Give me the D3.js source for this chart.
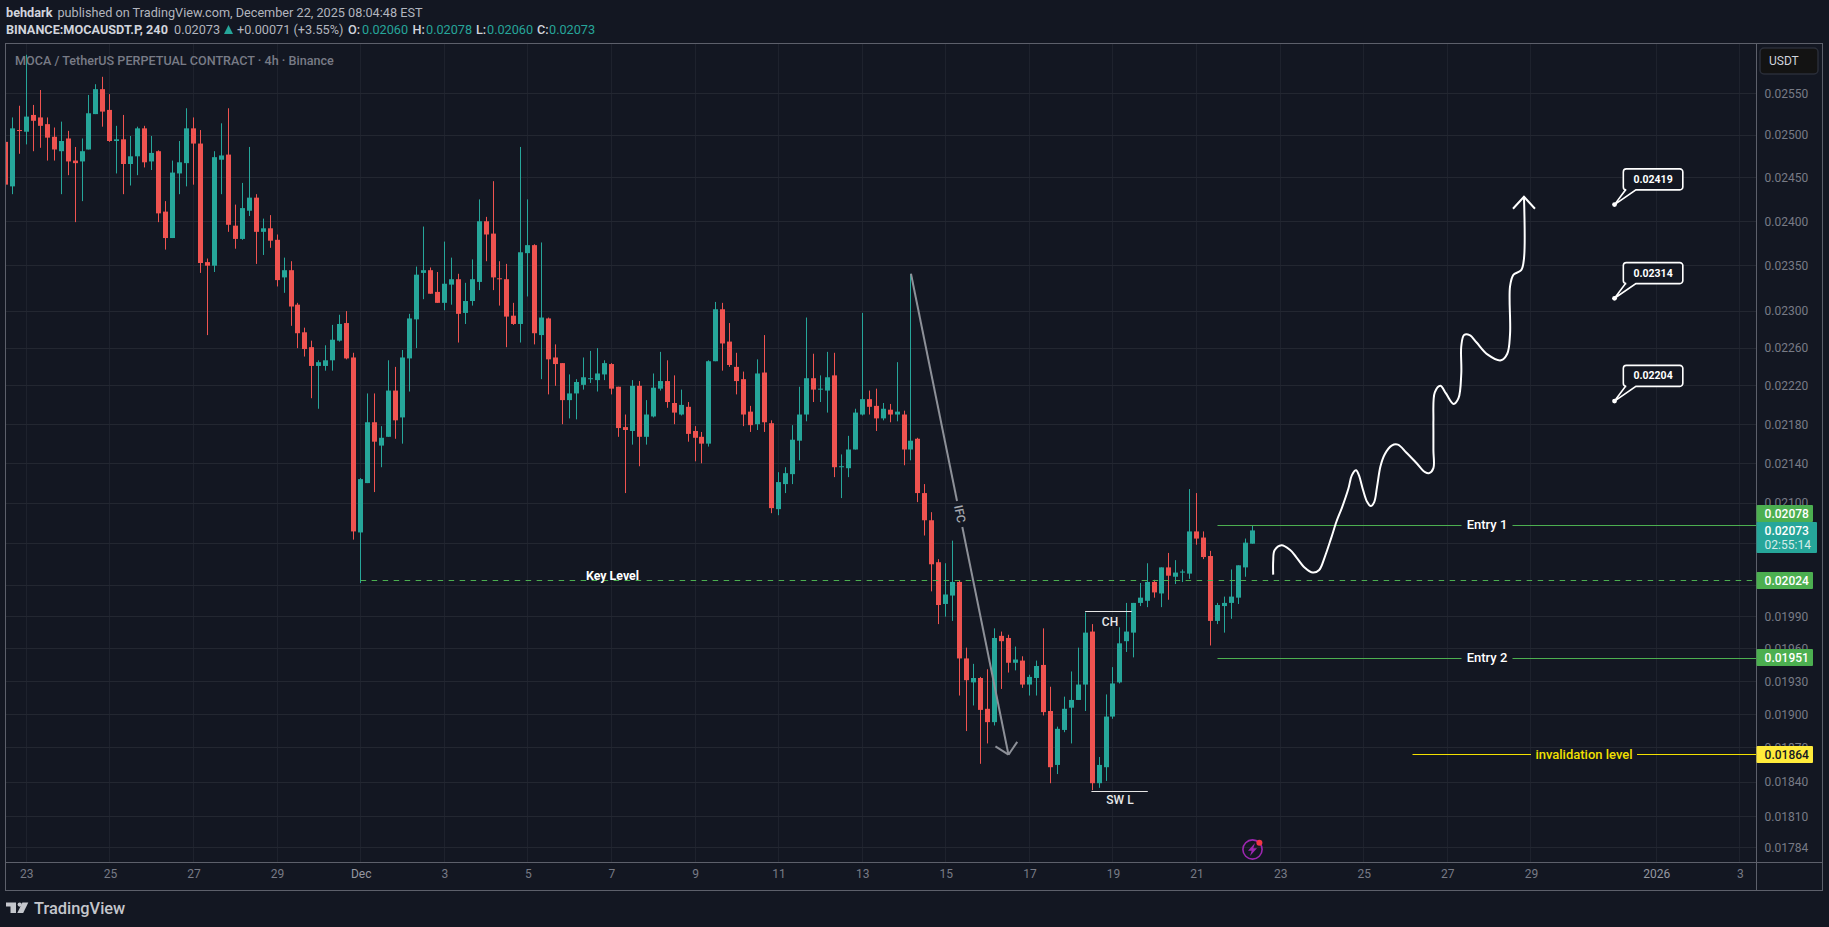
<!DOCTYPE html>
<html><head><meta charset="utf-8">
<script src="https://d3js.org/d3.v7.min.js"></script>
<style>
html,body{margin:0;padding:0;background:#131722;overflow:hidden}
svg{display:block}
text{font-family:Roboto,"Noto Sans",sans-serif}
</style></head><body>
<svg id="c" width="1829" height="927"></svg>
<script>
// Prices are stored in units of 0.00001
const UNIT = 1e-5;
const opens=[2492,2440,2506,2504,2524,2521,2513,2498,2481,2496,
2470,2469,2483,2525,2555,2530,2493,2495,2466,2475,
2508,2469,2481,2411,2381,2455,2467,2508,2490,2354,
2350,2471,2477,2395,2380,2412,2427,2388,2392,2379,
2337,2345,2307,2277,2261,2241,2241,2247,2268,2287,
2250,2071,2120,2182,2158,2167,2215,2187,2249,2291,
2342,2345,2321,2309,2329,2335,2298,2311,2332,2400,
2386,2336,2335,2295,2286,2364,2373,2274,2292,2250,
2244,2205,2212,2221,2227,2226,2232,2243,2219,2177,
2173,2220,2167,2188,2217,2225,2202,2190,2198,2173,
2167,2160,2246,2302,2267,2240,2227,2193,2180,2234,
2181,2094,2119,2129,2163,2190,2228,2216,2215,2231,
2136,2135,2154,2190,2206,2199,2186,2195,2190,2190,
2154,2165,2110,2083,2042,2002,2010,2023,1951,1929,
1933,1905,1893,1972,1970,1947,1949,1927,1933,1945,
1903,1855,1886,1906,1913,1927,1976,1839,1853,1898,
1929,1967,1975,2003,2005,2023,2012,2037,2028,2032,
2031,2072,2066,2048,1986,2000,2003,2008,2037,2060];
const highs=[2493,2521,2535,2597,2536,2554,2521,2509,2516,2505,
2486,2496,2548,2561,2570,2549,2511,2524,2499,2510,
2511,2499,2482,2423,2470,2493,2532,2521,2506,2358,
2481,2514,2532,2419,2444,2486,2431,2403,2407,2385,
2359,2355,2309,2282,2268,2247,2263,2285,2296,2300,
2255,2125,2212,2212,2178,2247,2240,2258,2297,2349,
2394,2348,2343,2377,2359,2341,2331,2357,2425,2405,
2446,2355,2352,2309,2486,2425,2374,2376,2293,2264,
2244,2232,2227,2250,2257,2260,2247,2244,2219,2190,
2226,2225,2205,2233,2256,2247,2231,2216,2203,2178,
2172,2247,2310,2309,2287,2255,2235,2199,2248,2274,
2184,2131,2136,2179,2219,2293,2254,2231,2256,2255,
2149,2168,2196,2298,2215,2217,2202,2201,2245,2194,
2341,2166,2119,2091,2045,2041,2063,2024,1961,1946,
1934,1941,1979,1976,1973,1962,1953,1936,1949,1979,
1925,1889,1916,1939,1961,1994,1983,1862,1918,1943,
1980,2003,2003,2022,2041,2025,2037,2051,2044,2035,
2114,2110,2072,2053,2003,2009,2035,2039,2065,2078];
const lows=[2442,2431,2478,2489,2481,2485,2470,2470,2431,2453,
2399,2423,2483,2525,2510,2492,2455,2431,2441,2453,
2462,2459,2399,2368,2381,2431,2440,2442,2342,2274,
2343,2431,2388,2369,2379,2406,2352,2362,2370,2327,
2320,2284,2260,2251,2207,2196,2236,2236,2267,2248,
2064,2022,2120,2111,2136,2167,2165,2160,2214,2260,
2313,2319,2309,2301,2307,2266,2286,2306,2323,2355,
2323,2306,2261,2285,2266,2316,2264,2227,2211,2220,
2180,2186,2185,2216,2223,2214,2226,2211,2167,2110,
2159,2137,2159,2187,2215,2197,2180,2189,2162,2142,
2140,2157,2246,2236,2240,2211,2178,2172,2174,2172,
2090,2088,2110,2119,2143,2183,2203,2203,2192,2126,
2105,2126,2154,2189,2190,2173,2184,2182,2183,2138,
2143,2101,2068,2014,1983,1990,1986,1917,1885,1908,
1856,1874,1890,1923,1938,1940,1924,1917,1917,1899,
1839,1847,1884,1874,1913,1903,1833,1835,1841,1896,
1928,1957,1952,2000,1999,2008,1999,2006,2021,2023,
2026,2059,2045,1963,1983,1975,1988,2002,2028,2060];
const closes=[2442,2508,2505,2522,2517,2511,2497,2483,2493,2469,
2467,2481,2526,2555,2528,2493,2495,2466,2475,2508,
2468,2479,2409,2381,2456,2468,2508,2490,2353,2350,
2474,2476,2396,2380,2415,2427,2388,2392,2378,2334,
2345,2305,2276,2259,2241,2245,2247,2269,2286,2249,
2072,2124,2182,2162,2166,2215,2184,2250,2292,2340,
2345,2319,2309,2330,2335,2297,2311,2335,2400,2385,
2337,2335,2294,2286,2365,2373,2276,2293,2248,2243,
2205,2212,2224,2229,2228,2233,2244,2217,2176,2174,
2220,2167,2190,2218,2225,2203,2192,2200,2170,2166,
2160,2246,2302,2265,2242,2225,2190,2179,2233,2182,
2095,2121,2130,2164,2190,2228,2216,2217,2229,2136,
2137,2154,2192,2206,2198,2186,2196,2190,2193,2154,
2163,2110,2083,2040,2001,2011,2023,1951,1931,1933,
1904,1893,1970,1967,1947,1950,1927,1934,1944,1902,
1853,1887,1905,1913,1927,1975,1839,1855,1898,1928,
1965,1976,2003,2008,2023,2013,2037,2029,2032,2033,
2072,2065,2047,1986,2001,2003,2009,2039,2061,2073];

const gridPrices=[2550,2500,2450,2400,2350,2300,2260,2220,2180,2140,2100,2060,2020,1990,1960,1930,1900,1870,1840,1810,1784];
const labelPrices=[2550,2500,2450,2400,2350,2300,2260,2220,2180,2140,2100,1990,1960,1930,1900,1870,1840,1810,1784];
const timeBars=[3,15,27,39,51,63,75,87,99,111,123,135,147,159,171,183,195,207,219,237,249];
const timeLabels=["23","25","27","29","Dec","3","5","7","9","11","13","15","17","19","21","23","25","27","29","2026","3"];

const keyLevel=[51,2024], entry1=[174,2078], entry2=[174,1951], invalidation=[202,1864];
const ifcFrom=[130,2341], ifcTo=[144,1864];
const chLine=[[155,161.7],1994.5], swLine=[[155.9,164],1832];
const targets=[2419,2314,2204], targetBar=231;
const pathBars=[182,182,182.2,183.2,184.4,185.3,186.5,187.7,188.6,189.4,190.3,191.1,191.9,192.8,193.3,193.9,194.3,194.9,195.5,196,196.5,196.9,197.4,198,199,199.9,201.1,202.6,203.8,204.4,205,205,205,205,205.2,206,206.8,207.9,208.6,209,209,209.4,210.2,211.2,212.8,214.7,215.6,216,216,216.5,217.6,218,218];
const pathPrices=[2030,2043,2053.5,2058.5,2054,2047,2037,2032,2034.5,2047,2065,2082,2096,2114.5,2128,2133,2128,2113,2101,2097,2101,2116,2137,2149,2158,2159,2151,2140,2131,2130,2135,2153,2173,2184,2213,2220,2212,2201,2207,2233,2262,2274,2274,2266,2253,2247,2254,2275,2327,2340,2345,2358,2428];

const UP="#26a69a", DOWN="#ef5350", GREEN="#4caf50", YEL="#ffeb3b", AXIS="#787b86", FRAME="#5d606b", GRID="#232731", VGRID="#1e222d";
const pane={l:6,t:43.5,r:1756.5,b:862.5,R:1822.5,B:890.5};

const x=d3.scaleLinear().domain([3,179]).range([26.3,1252.3]);
const y=d3.scaleLog().domain([2550*UNIT,1784*UNIT]).range([93.3,847.3]);
const P=v=>y(v*UNIT);
const crisp=v=>Math.round(v-.5)+.5;

const svg=d3.select("#c");
svg.append("rect").attr("width",1829).attr("height",927).attr("fill","#131722");
const defs=svg.append("defs");
defs.append("clipPath").attr("id","pane").append("rect").attr("x",pane.l).attr("y",pane.t).attr("width",pane.r-pane.l).attr("height",pane.b-pane.t);

// grid
const grid=svg.append("g");
grid.selectAll("line.v").data(timeBars).join("line").attr("class","v").attr("x1",d=>crisp(x(d))).attr("x2",d=>crisp(x(d))).attr("y1",pane.t).attr("y2",pane.b).attr("stroke",VGRID);
grid.selectAll("line.h").data(gridPrices).join("line").attr("class","h").attr("x1",pane.l).attr("x2",pane.r).attr("y1",d=>crisp(P(d))).attr("y2",d=>crisp(P(d))).attr("stroke",GRID);

// axes
const yAxis=svg.append("g").attr("transform",`translate(${pane.r},0)`)
 .call(d3.axisRight(y).tickValues(labelPrices.map(d=>d*UNIT)).tickFormat(d3.format(".5f")).tickSize(0).tickPadding(8));
const xAxis=svg.append("g").attr("transform",`translate(0,${pane.b})`)
 .call(d3.axisBottom(x).tickValues(timeBars).tickFormat((d,i)=>timeLabels[i]).tickSize(0).tickPadding(7));
[yAxis,xAxis].forEach(a=>{a.select(".domain").remove();a.selectAll("text").attr("fill",AXIS).attr("font-size","12px").attr("font-family","Roboto");});
xAxis.selectAll("text").attr("fill",d=>(d===51||d===237)?"#9598a1":AXIS);

// candles
const plot=svg.append("g").attr("clip-path","url(#pane)");
const bars=opens.map((o,i)=>({i,o,h:highs[i],l:lows[i],c:closes[i]}));
const col=d=>d.c>=d.o?UP:DOWN;
plot.selectAll("rect.w").data(bars).join("rect").attr("class","w")
 .attr("x",d=>crisp(x(d.i))-.5).attr("width",1).attr("y",d=>P(d.h)).attr("height",d=>P(d.l)-P(d.h)).attr("fill",col);
plot.selectAll("rect.b").data(bars).join("rect").attr("class","b")
 .attr("x",d=>crisp(x(d.i))-2.5).attr("width",5)
 .attr("y",d=>P(Math.max(d.o,d.c))).attr("height",d=>Math.max(1,P(Math.min(d.o,d.c))-P(Math.max(d.o,d.c)))).attr("fill",col);

// horizontal level lines
const lab=(t,xx,yy,c,sz,w)=>svg.append("text").attr("x",xx).attr("y",yy).attr("fill",c).attr("font-size",sz+"px").attr("font-weight",w||400).attr("text-anchor","middle").attr("dominant-baseline","central").text(t);
const hl=(a,b,p,c,dash)=>{const l=plot.append("line").attr("x1",a).attr("x2",b).attr("y1",crisp(P(p))).attr("y2",crisp(P(p))).attr("stroke",c).attr("stroke-width",1);if(dash)l.attr("stroke-dasharray",dash);};
hl(x(keyLevel[0]),pane.r,keyLevel[1],GREEN,"5.5 5.5");
lab("Key Level",612.5,575,"#ffffff",12.4,700);
function level(bp,textCx,halfGap,c,text,w,sz){
  hl(x(bp[0]),textCx-halfGap,bp[1],c);
  hl(textCx+halfGap,pane.r,bp[1],c);
  lab(text,textCx,P(bp[1])-.5,c==GREEN?"#ffffff":c,sz,w);
}
level(entry1,1487,25.5,GREEN,"Entry 1",500,13);
level(entry2,1487,25.5,GREEN,"Entry 2",500,13);
level(invalidation,1584,53,"#f2e000","invalidation level",500,13);

// IFC arrow
const ifcA=[x(ifcFrom[0]),P(ifcFrom[1])], ifcB=[x(ifcTo[0]),P(ifcTo[1])];
const ang=Math.atan2(ifcB[1]-ifcA[1],ifcB[0]-ifcA[0]);
const along=t=>[ifcA[0]+(ifcB[0]-ifcA[0])*t,ifcA[1]+(ifcB[1]-ifcA[1])*t];
const mid=(514-ifcA[1])/(ifcB[1]-ifcA[1]), gap=13/(ifcB[1]-ifcA[1]);
const grey="#8d9098";
const seg=(a,b)=>plot.append("line").attr("x1",a[0]).attr("y1",a[1]).attr("x2",b[0]).attr("y2",b[1]).attr("stroke",grey).attr("stroke-width",2);
seg(ifcA,along(mid-gap)); seg(along(mid+gap),ifcB);
[-.8,.8].forEach(o=>{const a=ang+Math.PI+o;seg(ifcB,[ifcB[0]+15.5*Math.cos(a),ifcB[1]+15.5*Math.sin(a)]);});
const mp=along(mid);
svg.append("text").attr("transform",`translate(${mp[0]},${mp[1]}) rotate(${ang*180/Math.PI})`).attr("fill","#a6a9b0").attr("font-size","12px").attr("font-weight",500).attr("text-anchor","middle").attr("dominant-baseline","central").text("IFC");

// CH / SW L
const seg2=(xs,p)=>plot.append("line").attr("x1",x(xs[0])).attr("x2",x(xs[1])).attr("y1",crisp(P(p))).attr("y2",crisp(P(p))).attr("stroke","#e6e6e6").attr("stroke-width",1);
seg2(chLine[0],chLine[1]); lab("CH",1110,622,"#e8e8e8",12,500);
seg2(swLine[0],swLine[1]); lab("SW L",1120,800,"#e8e8e8",12,500);

// projected path
const line=d3.line().x(d=>x(d[0])).y(d=>P(d[1])).curve(d3.curveCatmullRom.alpha(.5));
const pts=pathBars.map((b,i)=>[b,pathPrices[i]]);
plot.append("path").attr("d",line(pts)).attr("fill","none").attr("stroke","#ffffff").attr("stroke-width",2);
const tip=pts[pts.length-1], tx=x(tip[0]), ty=P(tip[1]);
plot.append("path").attr("d",d3.line()([[tx-11,ty+12],[tx,ty],[tx+11,ty+12]])).attr("fill","none").attr("stroke","#ffffff").attr("stroke-width",2);

// target callouts
targets.forEach(t=>{
  const ax=x(targetBar), ay=P(t), bl=ax+8.8, br=ax+68.3, bb=ay-14.7, bt=ay-35.7, r=3;
  const p=d3.path();
  p.moveTo(bl+r,bt);p.lineTo(br-r,bt);p.arcTo(br,bt,br,bt+r,r);p.lineTo(br,bb-r);p.arcTo(br,bb,br-r,bb,r);
  p.lineTo(ax+21.4,bb);p.lineTo(ax,ay);p.lineTo(ax+11,bb);p.lineTo(bl+r,bb);p.arcTo(bl,bb,bl,bb-r,r);p.lineTo(bl,bt+r);p.arcTo(bl,bt,bl+r,bt,r);p.closePath();
  plot.append("path").attr("d",p.toString()).attr("fill","#131722").attr("stroke","#ffffff").attr("stroke-width",1.6);
  plot.append("circle").attr("cx",ax).attr("cy",ay).attr("r",2.4).attr("fill","#ffffff");
  lab((t*UNIT).toFixed(5),(bl+br)/2,(bt+bb)/2,"#ffffff",10.5,700);
});

// lightning icon
const ic=svg.append("g").attr("transform","translate(1252.5,849.5)");
ic.append("circle").attr("r",9.6).attr("fill","none").attr("stroke","#9c27b0").attr("stroke-width",1.6);
ic.append("path").attr("d","M2.5-6.5L-4.5 1.2H-.8L-2.5 6.5L4.5-1.2H.8Z").attr("fill","#9c27b0");
ic.append("circle").attr("cx",6.9).attr("cy",-6.8).attr("r",3).attr("fill","#f23645");

// frame
const fr=svg.append("g").attr("fill","none").attr("stroke",FRAME);
fr.append("rect").attr("x",5.5).attr("y",pane.t).attr("width",pane.R-5.5).attr("height",pane.B-pane.t);
fr.append("line").attr("x1",pane.r).attr("x2",pane.r).attr("y1",pane.t).attr("y2",pane.B);
fr.append("line").attr("x1",5.5).attr("x2",pane.R).attr("y1",pane.b).attr("y2",pane.b);

// USDT button
svg.append("rect").attr("x",1760).attr("y",48).attr("width",58).attr("height",26).attr("rx",4).attr("fill","#131313").attr("stroke","#2a2e39").attr("stroke-width",1.5);
svg.append("text").attr("x",1769).attr("y",61).attr("fill","#d1d4dc").attr("font-size","12px").attr("dominant-baseline","central").text("USDT");

// price labels
const tagX=1764.6;
const tag=(top,h,w,fill,c,t,ty)=>{svg.append("rect").attr("x",pane.r).attr("y",top).attr("width",w).attr("height",h).attr("fill",fill).attr("rx",1);
 svg.append("text").attr("x",tagX).attr("y",ty||top+h/2).attr("fill",c).attr("font-size","12px").attr("font-weight",500).attr("dominant-baseline","central").text(t);};
tag(505,17,56.5,GREEN,"#ffffff",(entry1[1]*UNIT).toFixed(5));
tag(522,31,60.5,UP,"#ffffff",(closes[179]*UNIT).toFixed(5),531);
svg.append("text").attr("x",tagX).attr("y",545).attr("fill","#d4ecea").attr("font-size","12px").attr("dominant-baseline","central").text("02:55:14");
tag(572,17,56.5,GREEN,"#ffffff",(keyLevel[1]*UNIT).toFixed(5));
tag(649,17,56.5,GREEN,"#ffffff",(entry2[1]*UNIT).toFixed(5));
tag(746,17,56.5,YEL,"#131722",(invalidation[1]*UNIT).toFixed(5));

// header
const hdr=(xx,yy,t,c,w)=>svg.append("text").attr("x",xx).attr("y",yy).attr("fill",c).attr("font-size","12.7px").attr("font-weight",w||400).attr("dominant-baseline","central").text(t);
hdr(6,12.5,"behdark","#d1d4dc",700);
hdr(57.5,12.5,"published on TradingView.com, December 22, 2025 08:04:48 EST","#b2b5be");
hdr(6,29.5,"BINANCE:MOCAUSDT.P, 240","#d1d4dc",700);
hdr(174,29.5,"0.02073","#b2b5be");
svg.append("path").attr("d",d3.line()([[224,34],[228.5,25],[233,34]])+"Z").attr("fill",UP);
hdr(237,29.5,"+0.00071 (+3.55%)","#b2b5be");
[["O:",348,"0.02060",362],["H:",412.5,"0.02078",426],["L:",476,"0.02060",487],["C:",537,"0.02073",549]].forEach(r=>{
  hdr(r[1],29.5,r[0],"#d1d4dc",500); hdr(r[3],29.5,r[2],UP);
});
hdr(15,60.5,"MOCA / TetherUS PERPETUAL CONTRACT · 4h · Binance","#787b86",500).attr("font-size","12.6px");

// logo
const logo=svg.append("g").attr("fill","#c4c6cc");
logo.append("path").attr("d","M6 902.5H16V913H10.5V906.5H6Z");
logo.append("circle").attr("cx",19.7).attr("cy",904.6).attr("r",2.1);
logo.append("path").attr("d","M28.3 902.5L23.2 913H17.3L22.4 902.5Z");
svg.append("text").attr("x",34).attr("y",908.5).attr("fill","#c4c6cc").attr("font-family","Inter").attr("font-size","16.4px").attr("font-weight",500).attr("dominant-baseline","central").text("TradingView");
</script>
</body></html>
